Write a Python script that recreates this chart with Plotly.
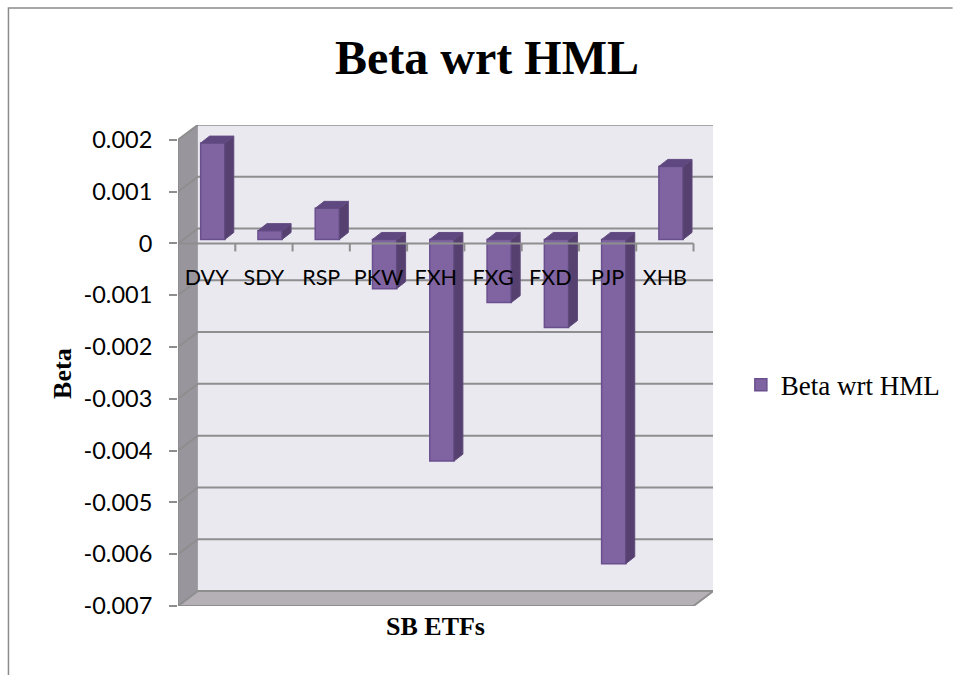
import plotly.graph_objects as go

categories = ["DVY", "SDY", "RSP", "PKW", "FXH", "FXG", "FXD", "PJP", "XHB"]
beta_values = [0.00186, 0.00017, 0.00060, -0.00095, -0.00428, -0.00122, -0.00170, -0.00626, 0.00141]
tick_values = [0.002, 0.001, 0, -0.001, -0.002, -0.003, -0.004, -0.005, -0.006, -0.007]
tick_labels = ["0.002", "0.001", "0", "-0.001", "-0.002", "-0.003", "-0.004", "-0.005", "-0.006", "-0.007"]

W, H = 957, 675
L, R, T, B = 178, 716, 124.5, 606
SLOT = 57.6
UNIT = 51.85 / 0.001
WALL_DX = 20 / SLOT
WALL_DY = 15 / UNIT
BAR_DX = 9 / SLOT
BAR_DY = 7 / UNIT
BAR_W = 24.3 / SLOT
BAR_X0 = 22.8 / SLOT
BAR_BASE = 4 / UNIT
N = len(categories)
YMIN, YTOP = -0.007, -0.007 + (B - T) / UNIT
XMAX = (R - L) / SLOT
FRONT_TOP = 0.002

GRID = "#8E8E8E"
SERIF = "Liberation Serif"
SANS = "Lato"


def poly(points):
    return "M" + " L".join(f"{x},{y}" for x, y in points) + " Z"


shapes = [
    # back wall
    dict(type="path", layer="below", line_width=0, fillcolor="#EBE9F0",
         path=poly([(WALL_DX, YMIN + WALL_DY), (N + WALL_DX, YMIN + WALL_DY),
                    (N + WALL_DX, FRONT_TOP + WALL_DY), (WALL_DX, FRONT_TOP + WALL_DY)])),
    # side wall
    dict(type="path", layer="below", line_width=0, fillcolor="#98959D",
         path=poly([(0, YMIN), (WALL_DX, YMIN + WALL_DY), (WALL_DX, FRONT_TOP + WALL_DY), (0, FRONT_TOP)])),
    # floor
    dict(type="path", layer="below", line=dict(color=GRID, width=2), fillcolor="#B5B0B6",
         path=poly([(0, YMIN), (N, YMIN), (N + WALL_DX, YMIN + WALL_DY), (WALL_DX, YMIN + WALL_DY)])),
]
for v in tick_values[:-1]:
    shapes.append(dict(type="path", layer="below", line=dict(color=GRID, width=2),
                       path=f"M0,{v} L{WALL_DX},{v + WALL_DY} L{N + WALL_DX},{v + WALL_DY}"))

# page border
shapes.append(dict(type="path", xref="paper", yref="paper", layer="below",
                   line=dict(color="#8A8A8A", width=1.5),
                   path=f"M{(7.5 - L) / (R - L)},{(B - 675) / (B - T)} "
                        f"L{(7.5 - L) / (R - L)},{(B - 7.5) / (B - T)} "
                        f"L{(957 - L) / (R - L)},{(B - 7.5) / (B - T)}"))

front_x = [k + BAR_X0 + BAR_W / 2 for k in range(N)]

side_x, side_y, top_x, top_y = [], [], [], []
for k, v in enumerate(beta_values):
    xl, xr = k + BAR_X0, k + BAR_X0 + BAR_W
    end = v + BAR_BASE
    high = max(end, BAR_BASE)
    low = min(end, BAR_BASE)
    side_x += [xr, xr + BAR_DX, xr + BAR_DX, xr, xr, None]
    side_y += [high, high + BAR_DY, low + BAR_DY, low, high, None]
    top_x += [xl, xl + BAR_DX, xr + BAR_DX, xr, xl, None]
    top_y += [high, high + BAR_DY, high + BAR_DY, high, high, None]

tick_x, tick_y = [0, N], [0, 0]
for k in range(1, N + 1):
    tick_x += [None, k, k]
    tick_y += [None, 0, -8 / UNIT]

fig = go.Figure()
fig.add_bar(x=front_x, y=beta_values, base=[BAR_BASE] * N, width=BAR_W, name="Beta wrt HML",
            marker=dict(color="#8064A2", line=dict(color="#6A4F8E", width=1.5)),
            customdata=categories, hovertemplate="%{customdata}: %{y}<extra></extra>")
fig.add_scatter(x=side_x, y=side_y, mode="lines", fill="toself", fillcolor="#56406F",
                line=dict(color="#5F4A7C", width=1), showlegend=False, hoverinfo="skip")
fig.add_scatter(x=top_x, y=top_y, mode="lines", fill="toself", fillcolor="#5F4780",
                line=dict(color="#634C82", width=1), showlegend=False, hoverinfo="skip")
fig.add_scatter(x=tick_x, y=tick_y, mode="lines", line=dict(color=GRID, width=2),
                showlegend=False, hoverinfo="skip")
fig.add_scatter(x=[0, 0], y=[YMIN, FRONT_TOP], mode="lines", line=dict(color=GRID, width=2),
                showlegend=False, hoverinfo="skip")
fig.add_scatter(x=[k + 0.5 for k in range(N)], y=[-0.00069] * N, mode="text", text=categories,
                textposition="middle center", textfont=dict(family=SANS, size=21.5, color="#000000"),
                showlegend=False, hoverinfo="skip")

fig.update_layout(
    width=W, height=H, autosize=False,
    margin=dict(l=L, r=W - R, t=T, b=H - B),
    paper_bgcolor="white", plot_bgcolor="rgba(0,0,0,0)",
    shapes=shapes,
    title=dict(text="<b>Beta wrt HML</b>", x=487 / W, xanchor="center", y=1 - 57 / H, yanchor="middle",
               font=dict(family=SERIF, size=48, color="#000000")),
    xaxis=dict(range=[0, XMAX], showgrid=False, zeroline=False, showline=False,
               showticklabels=False, ticks=""),
    yaxis=dict(range=[YMIN, YTOP], tickvals=tick_values, ticktext=tick_labels,
               showgrid=False, zeroline=False, showline=False, ticks="outside", ticklen=8,
               tickwidth=2, tickcolor=GRID, ticklabelstandoff=12,
               tickfont=dict(family=SANS, size=23.5, color="#000000")),
    showlegend=True,
    legend=dict(x=(744 - L) / (R - L), y=(B - 385) / (B - T), xanchor="left", yanchor="middle",
                font=dict(family=SERIF, size=27, color="#000000"), itemwidth=30,
                bgcolor="rgba(0,0,0,0)"),
    annotations=[
        dict(text="<b>Beta</b>", xref="paper", yref="paper", x=(62 - L) / (R - L), y=(B - 373) / (B - T),
             textangle=-90, showarrow=False, xanchor="center", yanchor="middle",
             font=dict(family=SERIF, size=26, color="#000000")),
        dict(text="<b>SB ETFs</b>", xref="paper", yref="paper", x=(437 - L) / (R - L), y=(B - 627) / (B - T),
             showarrow=False, xanchor="center", yanchor="middle",
             font=dict(family=SERIF, size=26, color="#000000")),
    ],
)

fig.write_html("out.html", config={"displayModeBar": False},
               post_script="document.body.style.margin='0';document.documentElement.style.overflow='hidden';")
